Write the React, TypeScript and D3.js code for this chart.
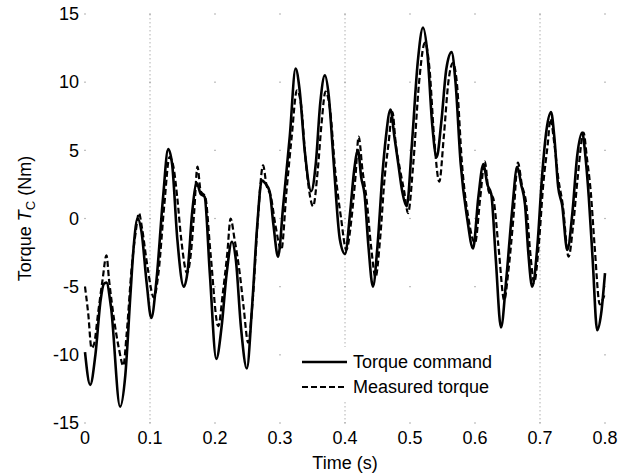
import * as d3 from "d3";
import { useRef, useEffect } from "react";

// Time (s) and torque (Nm) keypoints
const commandT = [
  0.000, 0.008, 0.016, 0.024, 0.029, 0.033, 0.040, 0.054, 0.062, 0.070, 0.075, 0.081, 0.087, 0.095,
  0.102, 0.110, 0.120, 0.128, 0.134, 0.142, 0.152, 0.158, 0.165, 0.172, 0.178, 0.184, 0.192, 0.202,
  0.210, 0.218, 0.226, 0.232, 0.240, 0.249, 0.257, 0.265, 0.272, 0.277, 0.284, 0.290, 0.297, 0.305,
  0.315, 0.324, 0.330, 0.338, 0.348, 0.355, 0.362, 0.369, 0.375, 0.382, 0.392, 0.400, 0.408, 0.414,
  0.420, 0.425, 0.430, 0.436, 0.443, 0.450, 0.458, 0.463, 0.470, 0.476, 0.482, 0.488, 0.495, 0.503,
  0.512, 0.520, 0.527, 0.534, 0.541, 0.548, 0.556, 0.564, 0.570, 0.578, 0.588, 0.597, 0.605, 0.613,
  0.619, 0.625, 0.632, 0.640, 0.648, 0.657, 0.665, 0.671, 0.677, 0.682, 0.688, 0.696, 0.703, 0.710,
  0.717, 0.722, 0.728, 0.734, 0.742, 0.750, 0.757, 0.765, 0.770, 0.775, 0.781, 0.788, 0.794, 0.800,
];
const commandV = [
  -9.8, -12.2, -10.0, -6.0, -4.8, -4.7, -6.5, -13.8, -11.5, -5.5, -2.0, 0.0, -1.0, -4.8,
  -7.3, -4.5, 1.5, 5.1, 4.0, -1.5, -5.0, -3.8, 0.5, 2.6, 1.8, 1.6, -4.0, -10.3,
  -8.0, -4.0, -1.7, -3.0, -8.0, -11.0, -6.5, -0.5, 2.8, 2.6, 2.0, -0.5, -2.8, 1.0,
  6.0, 11.0, 9.5, 5.0, 2.0, 4.0, 8.5, 10.5, 9.0, 4.5, -1.5, -2.6, 0.5, 3.5,
  5.0, 3.0, 1.8, -2.0, -5.0, -2.0, 3.5, 6.0, 8.0, 6.0, 4.0, 2.0, 0.9, 5.5,
  11.5, 14.0, 12.0, 7.0, 4.5, 7.0, 11.0, 12.2, 10.0, 4.0, 0.0, -2.2, 1.5, 4.0,
  2.5, 1.8, -3.0, -8.0, -4.5, 0.5, 3.8, 2.5, 1.0, -2.5, -5.0, -2.0, 3.0, 6.5,
  7.8, 6.0, 2.3, 1.0, -2.3, 0.5, 4.5, 6.3, 4.5, 1.6, -3.0, -8.2, -7.0, -4.0,
];

const measuredT = [
  0.000, 0.005, 0.010, 0.014, 0.020, 0.027, 0.033, 0.037, 0.045, 0.052, 0.059, 0.064, 0.072, 0.078,
  0.083, 0.088, 0.096, 0.106, 0.113, 0.122, 0.130, 0.136, 0.142, 0.148, 0.157, 0.163, 0.168, 0.173,
  0.178, 0.185, 0.193, 0.205, 0.212, 0.219, 0.224, 0.230, 0.238, 0.244, 0.251, 0.258, 0.266, 0.274,
  0.279, 0.286, 0.293, 0.302, 0.310, 0.318, 0.326, 0.332, 0.340, 0.351, 0.358, 0.364, 0.370, 0.377,
  0.385, 0.394, 0.402, 0.410, 0.416, 0.421, 0.427, 0.433, 0.440, 0.447, 0.454, 0.461, 0.467, 0.473,
  0.478, 0.485, 0.491, 0.497, 0.505, 0.514, 0.523, 0.530, 0.537, 0.545, 0.552, 0.559, 0.566, 0.572,
  0.580, 0.590, 0.600, 0.608, 0.615, 0.621, 0.628, 0.636, 0.645, 0.651, 0.659, 0.666, 0.672, 0.679,
  0.685, 0.691, 0.698, 0.705, 0.712, 0.716, 0.722, 0.728, 0.735, 0.744, 0.751, 0.758, 0.767, 0.772,
  0.778, 0.784, 0.792, 0.796, 0.800,
];
const measuredV = [
  -5.0, -7.0, -9.5, -9.2, -7.0, -4.5, -2.7, -4.5, -7.5, -9.5, -10.8, -8.5, -3.5, -1.0,
  0.4, -0.8, -3.5, -5.8, -4.0, 1.0, 4.5, 3.8, 1.5, -1.5, -4.0, -2.5, 0.5, 3.8,
  2.0, 1.6, -2.5, -7.9, -5.5, -2.5, 0.0, -1.5, -4.0, -6.5, -9.1, -6.0, 0.0, 3.9,
  2.5, 1.6, -0.5, -2.3, 2.0, 6.0, 9.4, 8.5, 4.0, 0.9, 3.5, 7.0, 9.3, 8.0,
  3.5, 0.0, -2.3, 0.0, 3.0, 6.0, 3.5, 1.5, -2.0, -4.3, -1.5, 3.0, 5.5, 7.8,
  5.5, 3.5, 2.0, 0.4, 4.0, 10.0, 12.9, 11.0, 6.0, 2.7, 6.0, 10.0, 11.4, 10.0,
  4.0, 0.0, -1.8, 1.5, 4.2, 2.0, 1.5, -2.0, -6.0, -4.0, 0.0, 4.1, 2.5, 1.0,
  -2.5, -4.7, -2.0, 2.5, 5.5, 7.3, 5.5, 3.0, 1.0, -2.8, -0.5, 3.0, 6.3, 4.5,
  2.0, -2.0, -6.3, -6.0, -5.5,
];

const xTicks = [0, 0.1, 0.2, 0.3, 0.4, 0.5, 0.6, 0.7, 0.8];
const yTicks = [-15, -10, -5, 0, 5, 10, 15];
const visibleGridX = [0.1, 0.4, 0.7];
const legendLabels = ["Torque command", "Measured torque"];

const W = 628;
const H = 474;
const FONT = "Arial, 'Liberation Sans', sans-serif";

const TorqueChart = () => {
  const ref = useRef<SVGSVGElement>(null);

  useEffect(() => {
    document.body.style.margin = "0";
    const svg = d3.select(ref.current);
    svg.selectAll("*").remove();

    const x = d3.scaleLinear().domain([0, 0.8]).range([85, 605]);
    const y = d3.scaleLinear().domain([-15, 15]).range([423, 14]);

    // faint dotted grid
    svg.append("g")
      .selectAll("line")
      .data(visibleGridX)
      .join("line")
      .attr("x1", d => x(d))
      .attr("x2", d => x(d))
      .attr("y1", y(15))
      .attr("y2", y(-15))
      .attr("stroke", "#b0b0b0")
      .attr("stroke-width", 1)
      .attr("stroke-dasharray", "1.5,2.5");

    const dots = xTicks.flatMap(tx => yTicks.map(ty => [tx, ty]));
    svg.append("g")
      .selectAll("rect")
      .data(dots)
      .join("rect")
      .attr("x", d => x(d[0]) - 0.6)
      .attr("y", d => y(d[1]) - 0.6)
      .attr("width", 1.2)
      .attr("height", 1.2)
      .attr("fill", "#909090");

    const line = d3.line<[number, number]>()
      .x(d => x(d[0]))
      .y(d => y(d[1]))
      .curve(d3.curveMonotoneX);

    const command = commandT.map((t, i) => [t, commandV[i]] as [number, number]);
    const measured = measuredT.map((t, i) => [t, measuredV[i]] as [number, number]);

    svg.append("path")
      .datum(command)
      .attr("fill", "none")
      .attr("stroke", "#000")
      .attr("stroke-width", 2.6)
      .attr("stroke-linejoin", "round")
      .attr("d", line);

    svg.append("path")
      .datum(measured)
      .attr("fill", "none")
      .attr("stroke", "#000")
      .attr("stroke-width", 2.2)
      .attr("stroke-dasharray", "6,3")
      .attr("d", line);

    // tick labels
    svg.append("g")
      .selectAll("text")
      .data(yTicks)
      .join("text")
      .attr("x", 79)
      .attr("y", d => y(d))
      .attr("dy", "0.35em")
      .attr("text-anchor", "end")
      .attr("font-family", FONT)
      .attr("font-size", 18)
      .text(d => d);

    svg.append("g")
      .selectAll("text")
      .data(xTicks)
      .join("text")
      .attr("x", d => x(d))
      .attr("y", 444)
      .attr("text-anchor", "middle")
      .attr("font-family", FONT)
      .attr("font-size", 18)
      .text(d => d);

    svg.append("text")
      .attr("x", (x(0) + x(0.8)) / 2)
      .attr("y", 469)
      .attr("text-anchor", "middle")
      .attr("font-family", FONT)
      .attr("font-size", 18)
      .text("Time (s)");

    const yt = svg.append("text")
      .attr("transform", `translate(31,${(y(15) + y(-15)) / 2}) rotate(-90)`)
      .attr("text-anchor", "middle")
      .attr("font-family", FONT)
      .attr("font-size", 18);
    yt.append("tspan").text("Torque ");
    yt.append("tspan").attr("font-style", "italic").text("T");
    yt.append("tspan").attr("font-size", 13).attr("dy", 4).text("C");
    yt.append("tspan").attr("dy", -4).text(" (Nm)");

    // legend
    const lg = svg.append("g");
    lg.append("rect")
      .attr("x", 291)
      .attr("y", 347)
      .attr("width", 210)
      .attr("height", 55)
      .attr("fill", "#fff");
    legendLabels.forEach((label, i) => {
      const ly = 362 + i * 25;
      lg.append("line")
        .attr("x1", 302)
        .attr("x2", 347)
        .attr("y1", ly)
        .attr("y2", ly)
        .attr("stroke", "#000")
        .attr("stroke-width", i === 0 ? 2.4 : 2)
        .attr("stroke-dasharray", i === 0 ? null : "6,3");
      lg.append("text")
        .attr("x", 353)
        .attr("y", ly)
        .attr("dy", "0.35em")
        .attr("font-family", FONT)
        .attr("font-size", 18)
        .text(label);
    });
  }, []);

  return <svg ref={ref} width={W} height={H} style={{ display: "block", background: "#fff" }} />;
};

export default function App() {
  return <TorqueChart />;
}
